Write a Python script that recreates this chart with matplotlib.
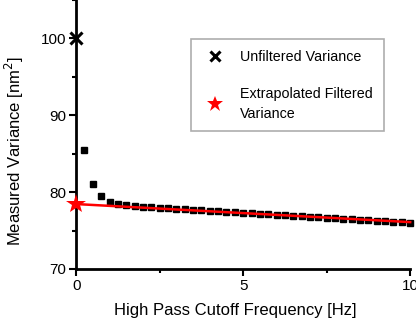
import matplotlib
matplotlib.use("Agg")
import matplotlib.pyplot as plt
from matplotlib.ticker import MultipleLocator

plt.rcParams['font.family'] = ['Liberation Sans', 'DejaVu Sans']

cutoff_hz = [0.25, 0.5, 0.75, 1.0, 1.25, 1.5, 1.75, 2.0, 2.25, 2.5,
             2.75, 3.0, 3.25, 3.5, 3.75, 4.0, 4.25, 4.5, 4.75, 5.0,
             5.25, 5.5, 5.75, 6.0, 6.25, 6.5, 6.75, 7.0, 7.25, 7.5,
             7.75, 8.0, 8.25, 8.5, 8.75, 9.0, 9.25, 9.5, 9.75, 10.0]
measured_var = [85.5, 81.1, 79.5, 78.7, 78.45, 78.3, 78.2, 78.1, 78.05, 78.0,
                77.93, 77.87, 77.8, 77.73, 77.67, 77.6, 77.53, 77.47, 77.4, 77.33,
                77.27, 77.2, 77.13, 77.07, 77.0, 76.93, 76.87, 76.8, 76.73, 76.67,
                76.6, 76.53, 76.47, 76.4, 76.33, 76.27, 76.2, 76.13, 76.07, 76.0]
fit_x = [0.0, 10.0]
fit_y = [78.45, 76.1]
unfiltered_x = [0.0]
unfiltered_y = [100.0]
extrap_x = [0.0]
extrap_y = [78.45]

fig = plt.figure(figsize=(4.16, 3.21), dpi=100)
ax = fig.add_axes([0.183, 0.162, 0.803, 0.838])

ax.plot(cutoff_hz, measured_var, 's', color='black', ms=4.3, clip_on=False, zorder=3)
ax.plot(fit_x, fit_y, '-', color='red', lw=1.8, zorder=4, clip_on=False)
ax.plot(unfiltered_x, unfiltered_y, 'x', color='black', ms=9, mew=2.2, clip_on=False,
        zorder=5, label='Unfiltered Variance')
ax.plot(extrap_x, extrap_y, '*', color='red', ms=15, mew=0, clip_on=False,
        zorder=6, label='Extrapolated Filtered\nVariance')

ax.set_xlim(0, 10)
ax.set_ylim(70, 105)
ax.xaxis.set_major_locator(MultipleLocator(5))
ax.xaxis.set_minor_locator(MultipleLocator(2.5))
ax.yaxis.set_major_locator(MultipleLocator(10))
ax.yaxis.set_minor_locator(MultipleLocator(5))
ax.set_yticks([70, 80, 90, 100])

for s in ['top', 'right']:
    ax.spines[s].set_visible(False)
for s in ['left', 'bottom']:
    ax.spines[s].set_linewidth(2)

ax.tick_params(which='major', direction='out', length=5, width=1.5, labelsize=11, pad=2)
ax.tick_params(which='minor', direction='out', length=3, width=1.5)

ax.set_xlabel('High Pass Cutoff Frequency [Hz]', fontsize=12)
ax.set_ylabel('Measured Variance [nm$^2$]', fontsize=12)
ax.xaxis.set_label_coords(0.476, -0.125)
ax.yaxis.set_label_coords(-0.150, 0.44)

leg = ax.legend(loc='upper left', bbox_to_anchor=(0.344, 0.855), borderaxespad=0,
                fontsize=10.3, frameon=True, fancybox=False, edgecolor='#999999',
                borderpad=0.75, labelspacing=1.6, handlelength=1.9, handletextpad=0.8,
                markerscale=0.8)
leg.get_frame().set_linewidth(1.2)
for t in leg.get_texts():
    t.set_linespacing(1.55)

fig.savefig('out.png', dpi=100)
